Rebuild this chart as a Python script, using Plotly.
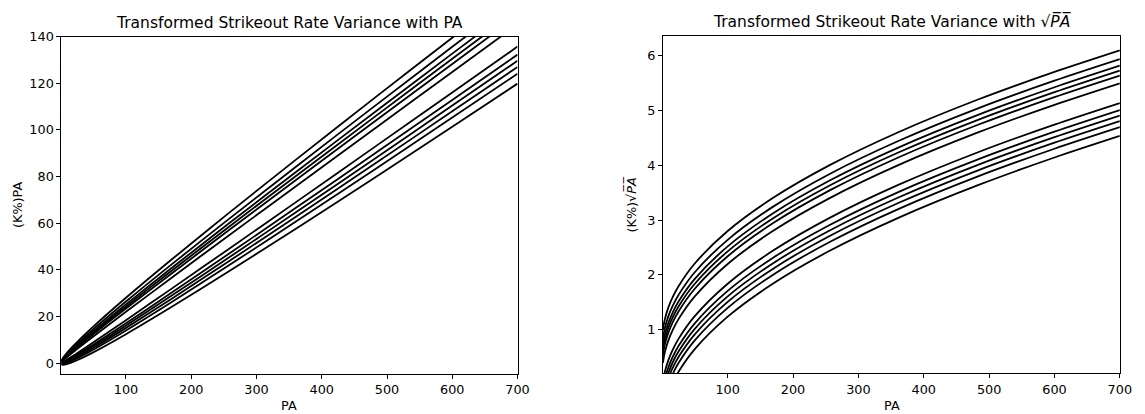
import plotly.graph_objects as go

# ---- data ----
PA = [1, 2, 4, 9, 16, 25, 49, 100, 169, 256, 361, 484, 600, 700]

# Left panel: (K%)PA, upper band (6 curves) and lower band (6 curves)
kpa_upper = [
    [1.0, 1.531, 2.4, 4.2, 6.4, 9.0, 15.4, 28.0, 44.2, 64.0, 87.4, 114.4, 139.6, 161.17],
    [0.84, 1.305, 2.08, 3.72, 5.76, 8.2, 14.28, 26.4, 42.12, 61.44, 84.36, 110.88, 135.68, 156.93],
    [0.72, 1.135, 1.84, 3.36, 5.28, 7.6, 13.44, 25.2, 40.56, 59.52, 82.08, 108.24, 132.74, 153.76],
    [0.63, 1.008, 1.66, 3.09, 4.92, 7.15, 12.81, 24.3, 39.39, 58.08, 80.37, 106.26, 130.53, 151.38],
    [0.54, 0.881, 1.48, 2.82, 4.56, 6.7, 12.18, 23.4, 38.22, 56.64, 78.66, 104.28, 128.33, 149.0],
    [0.4, 0.683, 1.2, 2.4, 4.0, 6.0, 11.2, 22.0, 36.4, 54.4, 76.0, 101.2, 124.9, 145.29],
]
kpa_lower = [
    [0.04, 0.174, 0.48, 1.32, 2.56, 4.2, 8.68, 18.4, 31.72, 48.64, 69.16, 93.28, 116.08, 135.77],
    [-0.09, -0.01, 0.22, 0.93, 2.04, 3.55, 7.77, 17.1, 30.03, 46.56, 66.69, 90.42, 112.9, 132.33],
    [-0.19, -0.152, 0.02, 0.63, 1.64, 3.05, 7.07, 16.1, 28.73, 44.96, 64.79, 88.22, 110.45, 129.68],
    [-0.29, -0.293, -0.18, 0.33, 1.24, 2.55, 6.37, 15.1, 27.43, 43.36, 62.89, 86.02, 108.0, 127.04],
    [-0.4, -0.449, -0.4, 0.0, 0.8, 2.0, 5.6, 14.0, 26.0, 41.6, 60.8, 83.6, 105.3, 124.13],
    [-0.56, -0.675, -0.72, -0.48, 0.16, 1.2, 4.48, 12.4, 23.92, 39.04, 57.76, 80.08, 101.38, 119.89],
]

# Right panel: (K%)sqrt(PA)
ksq_upper = [
    [1.0, 1.083, 1.2, 1.4, 1.6, 1.8, 2.2, 2.8, 3.4, 4.0, 4.6, 5.2, 5.699, 6.092],
    [0.84, 0.923, 1.04, 1.24, 1.44, 1.64, 2.04, 2.64, 3.24, 3.84, 4.44, 5.04, 5.539, 5.932],
    [0.72, 0.803, 0.92, 1.12, 1.32, 1.52, 1.92, 2.52, 3.12, 3.72, 4.32, 4.92, 5.419, 5.812],
    [0.63, 0.713, 0.83, 1.03, 1.23, 1.43, 1.83, 2.43, 3.03, 3.63, 4.23, 4.83, 5.329, 5.722],
    [0.54, 0.623, 0.74, 0.94, 1.14, 1.34, 1.74, 2.34, 2.94, 3.54, 4.14, 4.74, 5.239, 5.632],
    [0.4, 0.483, 0.6, 0.8, 1.0, 1.2, 1.6, 2.2, 2.8, 3.4, 4.0, 4.6, 5.099, 5.492],
]
ksq_lower = [
    [0.04, 0.123, 0.24, 0.44, 0.64, 0.84, 1.24, 1.84, 2.44, 3.04, 3.64, 4.24, 4.739, 5.132],
    [-0.09, -0.007, 0.11, 0.31, 0.51, 0.71, 1.11, 1.71, 2.31, 2.91, 3.51, 4.11, 4.609, 5.002],
    [-0.19, -0.107, 0.01, 0.21, 0.41, 0.61, 1.01, 1.61, 2.21, 2.81, 3.41, 4.01, 4.509, 4.902],
    [-0.29, -0.207, -0.09, 0.11, 0.31, 0.51, 0.91, 1.51, 2.11, 2.71, 3.31, 3.91, 4.409, 4.802],
    [-0.4, -0.317, -0.2, 0.0, 0.2, 0.4, 0.8, 1.4, 2.0, 2.6, 3.2, 3.8, 4.299, 4.692],
    [-0.56, -0.477, -0.36, -0.16, 0.04, 0.24, 0.64, 1.24, 1.84, 2.44, 3.04, 3.64, 4.139, 4.532],
]

left_xticks = [100, 200, 300, 400, 500, 600, 700]
left_yticks = [0, 20, 40, 60, 80, 100, 120, 140]
right_xticks = [100, 200, 300, 400, 500, 600, 700]
right_yticks = [1, 2, 3, 4, 5, 6]

title_left = "Transformed Strikeout Rate Variance with PA"
title_right = "Transformed Strikeout Rate Variance with \u221a<i>P\u0305A\u0305</i>"
ylabel_left = "(K%)PA"
ylabel_right = "(K%)\u221a<i>P\u0305A\u0305</i>"
xlabel = "PA"

# ---- figure ----
W, H = 1145, 414
FONT = "DejaVu Sans"
fig = go.Figure()

line = dict(color="black", width=1.8, shape="spline", smoothing=0.8)
for ys in kpa_upper + kpa_lower:
    fig.add_trace(go.Scatter(x=PA, y=ys, mode="lines", line=line,
                             xaxis="x", yaxis="y", showlegend=False, hoverinfo="skip"))
for ys in ksq_upper + ksq_lower:
    fig.add_trace(go.Scatter(x=PA, y=ys, mode="lines", line=line,
                             xaxis="x2", yaxis="y2", showlegend=False, hoverinfo="skip"))

def px_x(p):
    return p / W

def px_y(p):
    return 1 - p / H

axis_common = dict(showline=True, mirror=True, linecolor="black", linewidth=1,
                   ticks="outside", ticklen=4, tickwidth=1, tickcolor="black",
                   showgrid=False, zeroline=False,
                   tickfont=dict(family=FONT, size=12.8, color="black"))

fig.update_layout(
    width=W, height=H,
    margin=dict(l=0, r=0, t=0, b=0),
    paper_bgcolor="white", plot_bgcolor="white",
    font=dict(family=FONT, color="black"),
    xaxis=dict(domain=[px_x(62), px_x(523)], range=[1, 700], tickvals=left_xticks,
               anchor="y", **axis_common),
    yaxis=dict(domain=[px_y(373), px_y(29.3)], range=[-4.6, 140], tickvals=left_yticks,
               anchor="x", **axis_common),
    xaxis2=dict(domain=[px_x(670), px_x(1131.7)], range=[1, 700], tickvals=right_xticks,
                anchor="y2", **axis_common),
    yaxis2=dict(domain=[px_y(372.7), px_y(28.3)], range=[0.205, 6.357], tickvals=right_yticks,
                anchor="x2", **axis_common),
)

ann = [
    dict(text=title_left, x=px_x(292.5), y=px_y(15), font=dict(size=15.5)),
    dict(text=title_right, x=px_x(901), y=px_y(14), font=dict(size=15.5)),
    dict(text=xlabel, x=px_x(292.5), y=px_y(405), font=dict(size=12.8)),
    dict(text=xlabel, x=px_x(901), y=px_y(405), font=dict(size=12.8)),
    dict(text=ylabel_left, x=px_x(17), y=px_y(201), font=dict(size=12.8), textangle=-90),
    dict(text=ylabel_right, x=px_x(637), y=px_y(200), font=dict(size=12.8), textangle=-90),
]
for a in ann:
    fig.add_annotation(xref="paper", yref="paper", showarrow=False,
                       xanchor="center", yanchor="middle", **a)

fig.write_html("out.html")
